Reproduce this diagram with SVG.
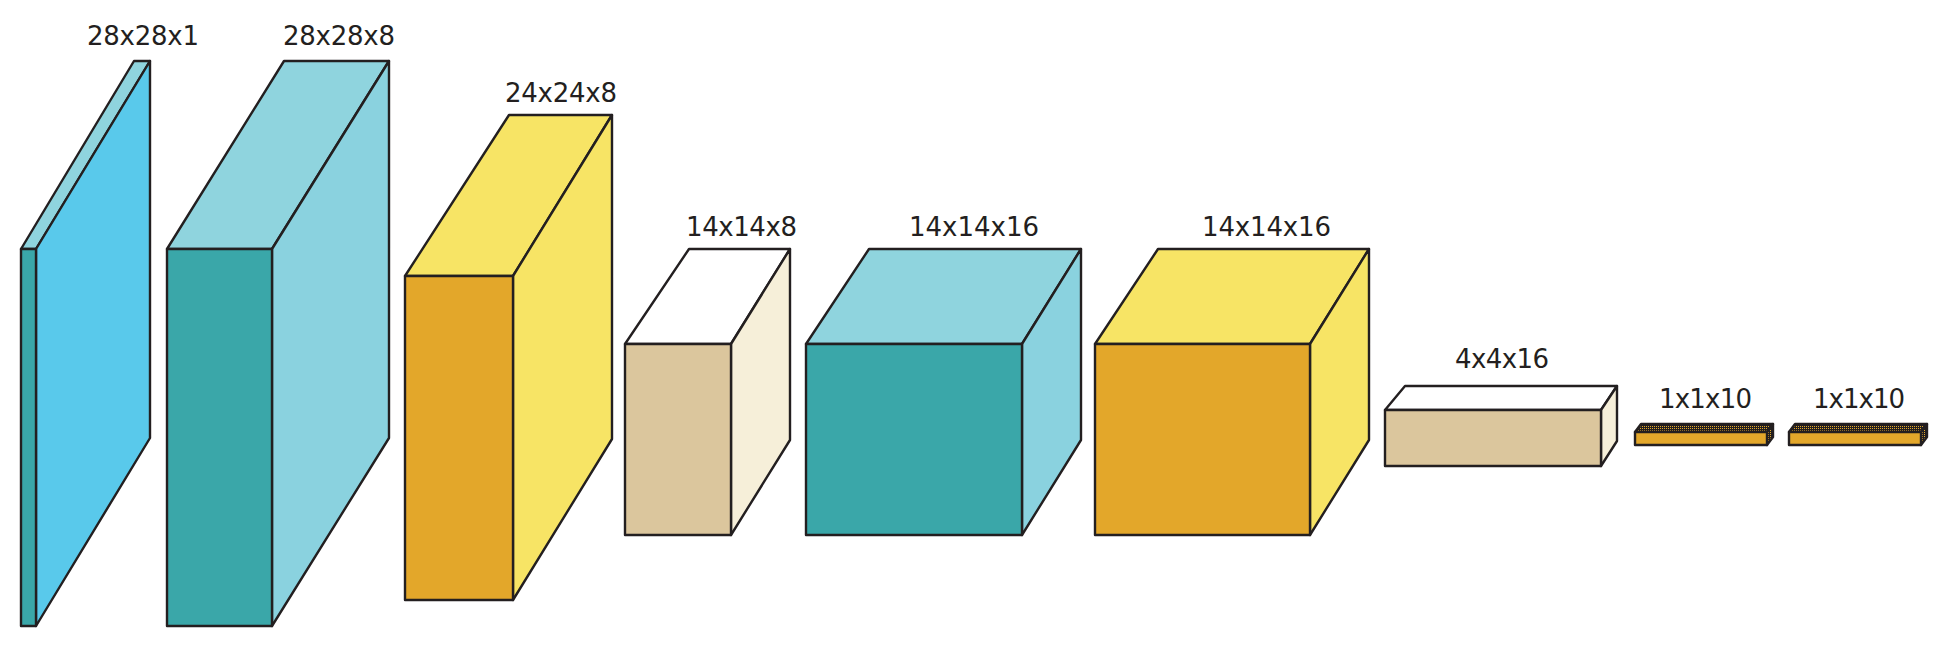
<svg xmlns="http://www.w3.org/2000/svg" width="1950" height="648" viewBox="0 0 1950 648">
<defs>
<pattern id="chk" width="2" height="2" patternUnits="userSpaceOnUse">
<rect width="2" height="2" fill="#231F20"/>
<rect width="1" height="1" fill="#E3A72A"/>
</pattern>
</defs>
<style>
.f{stroke:#231F20;stroke-width:2.4;stroke-linejoin:round}
.teal{fill:#3AA7A9}.lb{fill:#8FD4DE}.bb{fill:#59C9EB}.lbs{fill:#8AD2DF}
.or{fill:#E3A72A}.ye{fill:#F7E465}.tan{fill:#DBC69D}.wh{fill:#FFFFFF}.cr{fill:#F6EFD9}
.dk{fill:url(#chk)}
text{font-family:"DejaVu Sans","Liberation Sans",sans-serif;font-size:26px;fill:#231F20}
</style>
<rect width="1950" height="648" fill="#FFFFFF"/>
<g id="layer1">
<polygon class="f lb" points="21,249 134,61 150,61 36,249"/>
<polygon class="f bb" points="36,249 150,61 150,438 36,626"/>
<rect class="f teal" x="21" y="249" width="15" height="377"/>
<text x="87" y="45" textLength="112" lengthAdjust="spacing">28x28x1</text>
</g>
<g id="layer2">
<polygon class="f lb" points="167,249 284,61 389,61 272,249"/>
<polygon class="f lbs" points="272,249 389,61 389,438 272,626"/>
<rect class="f teal" x="167" y="249" width="105" height="377"/>
<text x="283" y="45" textLength="112" lengthAdjust="spacing">28x28x8</text>
</g>
<g id="layer3">
<polygon class="f ye" points="405,276 509,115 612,115 513,276"/>
<polygon class="f ye" points="513,276 612,115 612,439 513,600"/>
<rect class="f or" x="405" y="276" width="108" height="324"/>
<text x="505" y="102" textLength="112" lengthAdjust="spacing">24x24x8</text>
</g>
<g id="layer4">
<polygon class="f wh" points="625,344 689,249 790,249 731,344"/>
<polygon class="f cr" points="731,344 790,249 790,440 731,535"/>
<rect class="f tan" x="625" y="344" width="106" height="191"/>
<text x="686" y="236" textLength="111" lengthAdjust="spacing">14x14x8</text>
</g>
<g id="layer5">
<polygon class="f lb" points="806,344 869,249 1081,249 1022,344"/>
<polygon class="f lbs" points="1022,344 1081,249 1081,440 1022,535"/>
<rect class="f teal" x="806" y="344" width="216" height="191"/>
<text x="909" y="236" textLength="130" lengthAdjust="spacing">14x14x16</text>
</g>
<g id="layer6">
<polygon class="f ye" points="1095,344 1158,249 1369,249 1310,344"/>
<polygon class="f ye" points="1310,344 1369,249 1369,440 1310,535"/>
<rect class="f or" x="1095" y="344" width="215" height="191"/>
<text x="1202" y="236" textLength="129" lengthAdjust="spacing">14x14x16</text>
</g>
<g id="layer7">
<polygon class="f wh" points="1385,410 1405,386 1617,386 1601,410"/>
<polygon class="f cr" points="1601,410 1617,386 1617,441 1601,466"/>
<rect class="f tan" x="1385" y="410" width="216" height="56"/>
<text x="1455" y="368" textLength="94" lengthAdjust="spacing">4x4x16</text>
</g>
<g id="layer8">
<polygon class="f dk" points="1635,432 1641,424 1773,424 1767,432"/>
<polygon class="f dk" points="1767,432 1773,424 1773,437 1767,445"/>
<rect class="f or" x="1635" y="432" width="132" height="13"/>
<text x="1659" y="408" textLength="93" lengthAdjust="spacing">1x1x10</text>
</g>
<g id="layer9">
<polygon class="f dk" points="1789,432 1795,424 1927,424 1921,432"/>
<polygon class="f dk" points="1921,432 1927,424 1927,437 1921,445"/>
<rect class="f or" x="1789" y="432" width="132" height="13"/>
<text x="1813" y="408" textLength="92" lengthAdjust="spacing">1x1x10</text>
</g>
<g id="connectors"/>
</svg>
